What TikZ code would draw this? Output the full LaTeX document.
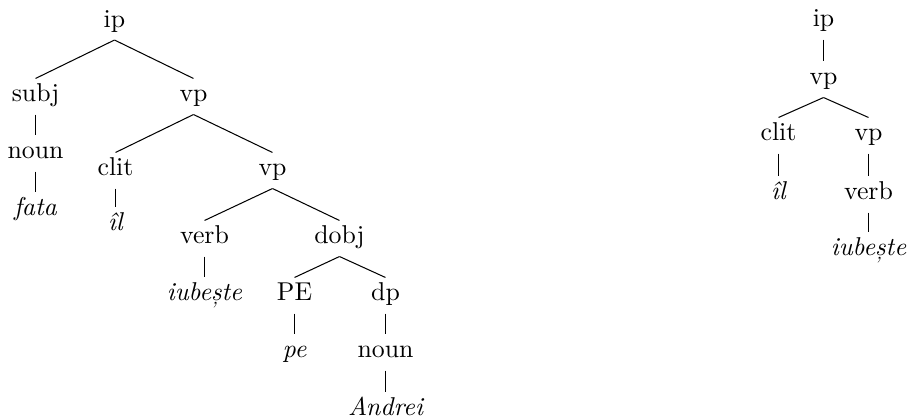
\documentclass[tikz,border=0pt]{standalone}
\begin{document}
\begin{tikzpicture}[x=0.3876pt,y=-0.3876pt,
  tn/.style={inner sep=0.3333em, text height=5.5pt, text depth=1.4pt},
  br/.style={line width=0.4pt}]
\useasboundingbox (0,0) rectangle (908,419);
\begin{scope}[shift={(0.5,0)}]
% left tree
\node[tn] (ip) at (114,22) {ip};
\node[tn] (subj) at (35,96.5) {subj};
\node[tn] (vpa) at (193,96.5) {vp};
\node[tn] (nouna) at (35,153.5) {noun};
\node[tn] (clita) at (115,170.5) {clit};
\node[tn] (vpb) at (272,170.5) {vp};
\node[tn] (fata) at (35,210.5) {\itshape fata};
\node[tn] (ila) at (115,225.5) {\itshape îl};
\node[tn] (verba) at (204,238.5) {verb};
\node[tn] (dobj) at (339,238.5) {dobj};
\node[tn] (iuba) at (204,295.5) {\itshape iubește};
\node[tn] (PE) at (294,295.5) {PE};
\node[tn] (dp) at (385,295.5) {dp};
\node[tn] (pe) at (294,352.5) {\itshape pe};
\node[tn] (nounb) at (385,352.5) {noun};
\node[tn] (andrei) at (385,410.5) {\itshape Andrei};
\draw[br] (ip.south) -- (subj.north);
\draw[br] (ip.south) -- (vpa.north);
\draw[br] (subj.south) -- (nouna.north);
\draw[br] (nouna.south) -- (fata.north);
\draw[br] (vpa.south) -- (clita.north);
\draw[br] (vpa.south) -- (vpb.north);
\draw[br] (clita.south) -- (ila.north);
\draw[br] (vpb.south) -- (verba.north);
\draw[br] (vpb.south) -- (dobj.north);
\draw[br] (verba.south) -- (iuba.north);
\draw[br] (dobj.south) -- (PE.north);
\draw[br] (dobj.south) -- (dp.north);
\draw[br] (PE.south) -- (pe.north);
\draw[br] (dp.south) -- (nounb.north);
\draw[br] (nounb.south) -- (andrei.north);
% right tree
\node[tn] (ipr) at (823,21.5) {ip};
\node[tn] (vpr) at (823,79.5) {vp};
\node[tn] (clitr) at (778,135.5) {clit};
\node[tn] (vpr2) at (868,135.5) {vp};
\node[tn] (ilr) at (778,194.5) {\itshape îl};
\node[tn] (verbr) at (868,194.5) {verb};
\node[tn] (iubr) at (868,250.5) {\itshape iubește};
\draw[br] (ipr.south) -- (vpr.north);
\draw[br] (vpr.south) -- (clitr.north);
\draw[br] (vpr.south) -- (vpr2.north);
\draw[br] (clitr.south) -- (ilr.north);
\draw[br] (vpr2.south) -- (verbr.north);
\draw[br] (verbr.south) -- (iubr.north);
\end{scope}
\end{tikzpicture}
\end{document}
